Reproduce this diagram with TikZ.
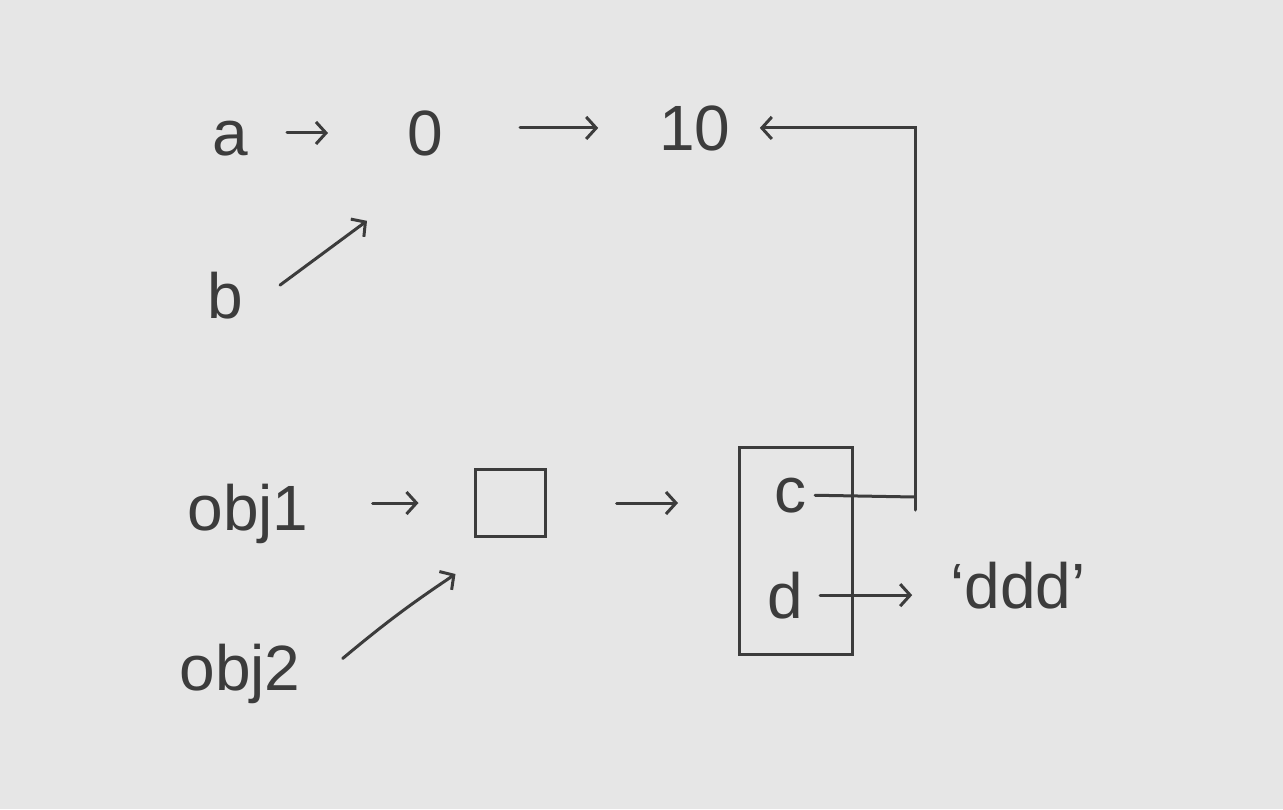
\documentclass[tikz,border=0pt]{standalone}
\usepackage{fontspec}
\setmainfont{Liberation Sans}
\usetikzlibrary{arrows.meta}
\definecolor{bg}{HTML}{E6E6E6}
\definecolor{ink}{HTML}{3C3C3C}
\begin{document}
\begin{tikzpicture}[x=1pt,y=-1pt,
  lbl/.style={inner sep=0pt, anchor=base, font=\fontsize{64}{68}\selectfont, text=ink},
  ln/.style={draw=ink, line width=3pt, line cap=round},
  arr/.style={ln, -{Straight Barb[length=10pt,width=22pt,line width=3pt]}},
  boxed/.style={draw=ink, line width=3pt, inner sep=0pt}]
\fill[bg] (0,0) rectangle (1283,809);
\useasboundingbox (0,0) rectangle (1283,809);
% nodes
\node[lbl] (a) at (230,155) {a};
\node[lbl] (zero) at (425,155) {0};
\node[lbl] (ten) at (695,150) {10};
\node[lbl] (b) at (225,318) {b};
\node[lbl] (obj1) at (248,530) {obj1};
\node[boxed, minimum width=70pt, minimum height=67pt] (sq) at (510,503) {};
\node[lbl] (obj2) at (240,690) {obj2};
\node[boxed, minimum width=113pt, minimum height=207pt] (box) at (796,551) {};
\node[lbl] (c) at (790,512) {c};
\node[lbl] (d) at (785,618) {d};
\node[lbl] (ddd) at (1018,608) {‘ddd’};
\coordinate (cr) at (915,497);
\coordinate (crb) at (915,510);
% connectors
\draw[arr, shorten <=39pt, shorten >=79pt] (zero.west -| a.east) -- (zero.west);
\draw[arr, shorten <=77pt, shorten >=61pt] (ten.west -| zero.east) -- (ten.west);
\draw[arr] ([shift={(37,-10)}]b.east) -- ([shift={(-58,65)}]zero.south);
\draw[arr, shorten <=64pt, shorten >=55pt] (sq.west -| obj1.east) -- (sq.west);
\draw[arr] ([shift={(42,-15)}]obj2.east) to[bend left=3] ([shift={(-18,36)}]sq.south west);
\draw[arr, shorten <=70pt, shorten >=60pt] (sq.east) -- (sq.east -| box.west);
\draw[ln, shorten <=9pt] (c.east) -- (cr);
\draw[arr, shorten >=29pt] (crb) |- (ten.east);
\draw[arr, shorten <=17pt, shorten >=38pt] (d.east) -- (d.east -| ddd.west);
\end{tikzpicture}
\end{document}
